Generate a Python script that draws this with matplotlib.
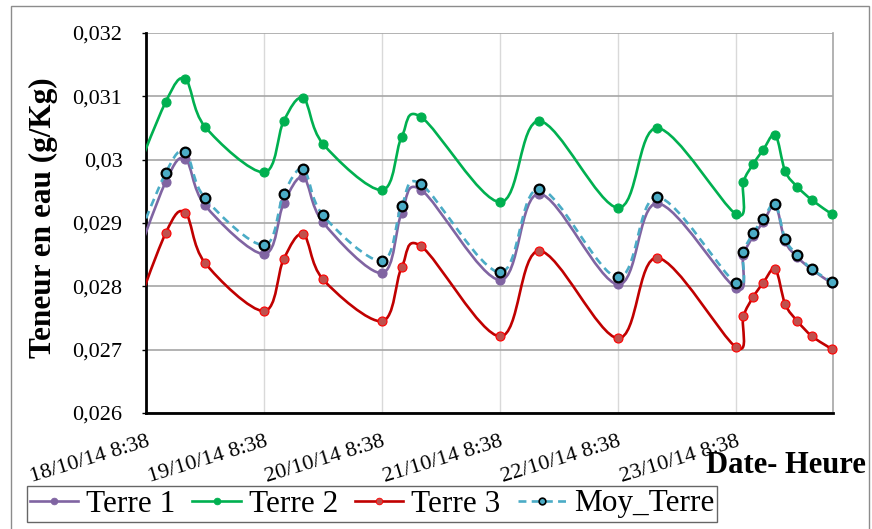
import numpy as np
import matplotlib
matplotlib.use('Agg')
import matplotlib.pyplot as plt
import matplotlib.dates as mdates
from matplotlib.path import Path
from matplotlib.patches import PathPatch, Rectangle
from matplotlib.lines import Line2D
from datetime import datetime

plt.rcParams['font.family'] = ['Liberation Serif', 'DejaVu Serif']

# Données (date - heure des mesures)
dates = [
    '18/10/14 04:38', '18/10/14 12:38', '18/10/14 16:38', '18/10/14 20:38',
    '19/10/14 08:38', '19/10/14 12:38', '19/10/14 16:38', '19/10/14 20:38',
    '20/10/14 08:38', '20/10/14 12:38', '20/10/14 16:38',
    '21/10/14 08:38', '21/10/14 16:38',
    '22/10/14 08:38', '22/10/14 16:38',
    '23/10/14 08:38', '23/10/14 10:08', '23/10/14 12:08', '23/10/14 14:08',
    '23/10/14 16:38', '23/10/14 18:38', '23/10/14 21:08', '24/10/14 00:08',
    '24/10/14 04:08',
]
terre_1 = [0.02800, 0.02965, 0.03001, 0.02928, 0.02851, 0.02931, 0.02972, 0.02901,
           0.02821, 0.02916, 0.02952, 0.02810, 0.02946, 0.02803, 0.02931, 0.02797,
           0.02849, 0.02879, 0.02901, 0.02928, 0.02871, 0.02846, 0.02826, 0.02805]
terre_2 = [0.02939, 0.03091, 0.03127, 0.03052, 0.02980, 0.03061, 0.03097, 0.03025,
           0.02952, 0.03036, 0.03067, 0.02933, 0.03061, 0.02924, 0.03050, 0.02914,
           0.02965, 0.02993, 0.03015, 0.03039, 0.02982, 0.02957, 0.02936, 0.02914]
terre_3 = [0.02720, 0.02884, 0.02916, 0.02837, 0.02761, 0.02843, 0.02882, 0.02811,
           0.02745, 0.02830, 0.02863, 0.02721, 0.02856, 0.02718, 0.02845, 0.02704,
           0.02753, 0.02783, 0.02805, 0.02827, 0.02772, 0.02745, 0.02721, 0.02701]
moy_terre = [0.02830, 0.02979, 0.03012, 0.02939, 0.02865, 0.02946, 0.02985, 0.02912,
             0.02840, 0.02927, 0.02961, 0.02822, 0.02954, 0.02814, 0.02941, 0.02805,
             0.02854, 0.02884, 0.02906, 0.02930, 0.02875, 0.02849, 0.02827, 0.02807]

x = mdates.date2num([datetime.strptime(d, '%d/%m/%y %H:%M') for d in dates])
ticks = [datetime(2014, 10, d, 8, 38) for d in range(18, 24)]


# Courbe lissée façon Excel (Bézier / Catmull-Rom)
def smooth_path(xs, ys):
    pts = np.column_stack([xs, ys])
    n = len(pts)
    verts = [pts[0]]
    codes = [Path.MOVETO]
    for i in range(n - 1):
        p0 = pts[i - 1] if i > 0 else pts[i]
        p1 = pts[i]
        p2 = pts[i + 1]
        p3 = pts[i + 2] if i + 2 < n else pts[i + 1]
        verts += [p1 + (p2 - p0) / 6, p2 - (p3 - p1) / 6, p2]
        codes += [Path.CURVE4] * 3
    return Path(verts, codes)


fig = plt.figure(figsize=(8.72, 5.29), dpi=100)
ax = fig.add_axes([146 / 872, 1 - 413 / 529, (833 - 146) / 872, (413 - 33) / 529])

series = [
    ('Terre 1', terre_1, '#8064A2', '#8064A2', '#8064A2', '-'),
    ('Terre 2', terre_2, '#00B050', '#00B050', '#00B050', '-'),
    ('Terre 3', terre_3, '#C00000', '#C0504D', '#FF0000', '-'),
    ('Moy_Terre', moy_terre, '#4BACC6', '#4BACC6', 'black', (0, (3, 2))),
]

handles = []
for k, (name, vals, col, mfc, mec, ls) in enumerate(series):
    patch = PathPatch(smooth_path(x, vals), fill=False, edgecolor=col,
                      linewidth=1.9, linestyle=ls, zorder=3 + k)
    ax.add_patch(patch)
    moy = name == 'Moy_Terre'
    ax.plot(x[1:], vals[1:], ls='none', marker='o', ms=7 if moy else 6.5,
            mfc=mfc, mec=mec, mew=1.6 if moy else 0.8, clip_on=False, zorder=3.5 + k)
    handles.append(Line2D([], [], color=col, lw=1.9, ls=ls, marker='o', ms=4.8,
                          mfc=mfc, mec=mec, mew=1.2 if moy else 0.6))

ax.set_xlim(mdates.date2num(ticks[0]), x[-1] + 0.01)
ax.set_ylim(0.026, 0.032)

ax.set_xticks(ticks)
ax.xaxis.set_major_formatter(mdates.DateFormatter('%d/%m/%y %-H:%M'))
ax.yaxis.set_major_locator(plt.MultipleLocator(0.001))
ax.yaxis.set_major_formatter(plt.FuncFormatter(lambda v, p: f'{v:.3f}'.rstrip('0').replace('.', ',')))

# Grille
ax.grid(axis='y', color='#A6A6A6', linewidth=1.2, zorder=0)
ax.grid(axis='x', color='#D9D9D9', linewidth=1.0, zorder=0)
ax.set_axisbelow(True)

for s in ['left', 'bottom']:
    ax.spines[s].set_linewidth(2.0)
    ax.spines[s].set_color('black')
ax.spines['top'].set_visible(False)
ax.spines['right'].set_color('#A6A6A6')
ax.spines['right'].set_linewidth(1.2)

ax.tick_params(axis='y', length=3, width=1, pad=14, labelsize=16)
ax.tick_params(axis='x', length=0, pad=14, labelsize=16)
plt.setp(ax.get_xticklabels(), rotation=17, ha='right', rotation_mode='anchor')

# Titres des axes
fig.text(43 / 872, 1 - 218 / 529, 'Teneur en eau (g/Kg)', rotation=90, ha='center',
         va='center', fontsize=22.5, fontweight='bold')
fig.text(866 / 872, 1 - 473 / 529, 'Date- Heure', ha='right', va='baseline',
         fontsize=22, fontweight='bold')

# Légende
leg = fig.legend(handles, [s[0] for s in series], loc='center', ncol=4,
                 bbox_to_anchor=(372 / 872, 1 - 504 / 529), fontsize=22.5,
                 frameon=True, fancybox=False, handlelength=1.55, handletextpad=0.25,
                 columnspacing=0.55, borderpad=0.1, borderaxespad=0)
leg.get_frame().set_edgecolor('#404040')
leg.get_frame().set_linewidth(1.0)

# Cadre du graphique
fig.patches.append(Rectangle((11 / 872, -0.05), (869 - 11) / 872, 1.05 - 6 / 529,
                             transform=fig.transFigure, fill=False,
                             edgecolor='#8C8C8C', linewidth=1.0))

fig.savefig('out.png', dpi=100)
